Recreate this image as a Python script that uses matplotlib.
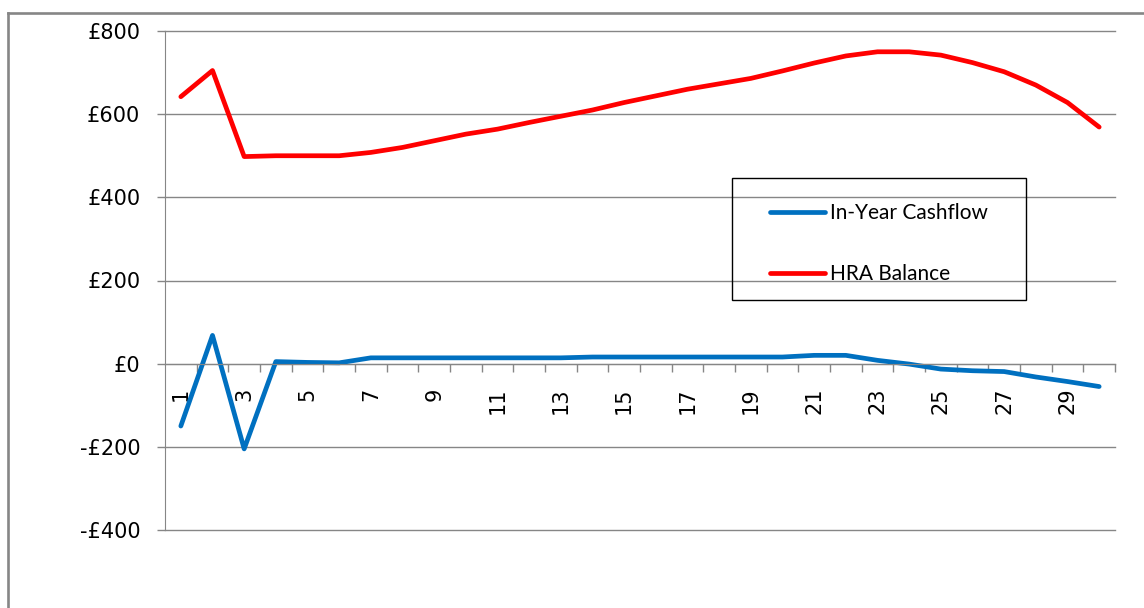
import matplotlib
matplotlib.use("Agg")
import matplotlib.pyplot as plt
from matplotlib.ticker import FuncFormatter, MultipleLocator
from matplotlib.patches import Rectangle
from matplotlib.lines import Line2D

# Data (£, by year 1..30)
years = list(range(1, 31))
cashflow = [-150, 68, -205, 5, 3, 2, 14, 14, 14, 14, 14, 14, 14, 16, 16,
            16, 16, 16, 16, 16, 20, 20, 8, -1, -13, -17, -19, -32, -43, -55]
balance = [642, 705, 498, 500, 500, 500, 508, 520, 536, 552, 564, 580, 595, 610, 628,
           644, 660, 673, 686, 704, 723, 740, 750, 750, 742, 724, 702, 670, 628, 569]
year_labels = [str(y) if y % 2 == 1 else "" for y in years]

W, H = 1144, 608
grey = "#868686"

fig = plt.figure(figsize=(W / 100, H / 100), dpi=100)
ax = fig.add_axes([165 / W, 1 - 530 / H, (1115 - 165) / W, (530 - 31) / H])

ax.plot(years, cashflow, color="#0070C0", lw=3.4, solid_capstyle="round",
        solid_joinstyle="round", label="In-Year Cashflow")
ax.plot(years, balance, color="#FF0000", lw=3.4, solid_capstyle="round",
        solid_joinstyle="round", label="HRA Balance")

ax.set_xlim(0.5, 30.5)
ax.set_ylim(-400, 800)

# y axis
ax.yaxis.set_major_locator(MultipleLocator(200))
ax.yaxis.set_major_formatter(FuncFormatter(lambda v, p: ("-£%d" % -v) if v < 0 else "£%d" % v))
ax.grid(axis="y", color=grey, lw=1)
for gl in ax.get_ygridlines():
    gl.set_clip_on(False)
ax.tick_params(axis="y", direction="out", length=5.8, width=1, color=grey,
               pad=12, labelsize=15)

# x axis sits on zero
for s in ["top", "right"]:
    ax.spines[s].set_visible(False)
ax.spines["bottom"].set_position(("data", 0))
ax.spines["bottom"].set_color(grey)
ax.spines["left"].set_color(grey)
ax.set_xticks(years)
ax.set_xticklabels(year_labels, rotation=90)
ax.set_xticks([y + 0.5 for y in years], minor=True)
ax.tick_params(axis="x", which="major", length=0, pad=17, labelsize=15)
ax.tick_params(axis="x", which="minor", direction="out", length=5.8, width=1, color=grey)
ax.set_axisbelow(True)

leg = ax.legend(loc="upper left", bbox_to_anchor=(760 / W, 1 - 193 / H),
                bbox_transform=fig.transFigure, frameon=False, borderpad=0,
                handlelength=2.6, handletextpad=0.24, labelspacing=1.97,
                prop={"family": "Lato", "size": 15})
fig.patches.append(Rectangle((732 / W, 1 - 300 / H), 294 / W, 122 / H,
                             transform=fig.transFigure, fill=False,
                             edgecolor="black", lw=1))

# outer chart frame (cut off at right and bottom)
fig.lines.append(Line2D([7.5 / W, 7.5 / W], [0, 1 - 13.3 / H], transform=fig.transFigure,
                        color=grey, lw=1.9))
fig.lines.append(Line2D([7.5 / W, 1], [1 - 13.3 / H, 1 - 13.3 / H], transform=fig.transFigure,
                        color=grey, lw=1.9))

plt.savefig("out.png", dpi=100)
